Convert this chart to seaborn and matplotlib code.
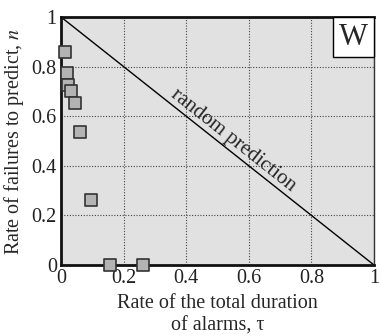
import matplotlib
matplotlib.use("Agg")
import matplotlib.pyplot as plt
import matplotlib.patches as mpatches
import seaborn as sns
import pandas as pd
import numpy as np

tau = [0.013, 0.020, 0.023, 0.032, 0.045, 0.061, 0.096, 0.157, 0.263]
n_fail = [0.86, 0.775, 0.726, 0.70, 0.655, 0.537, 0.262, 0.0, 0.0]
ticks = [0, 0.2, 0.4, 0.6, 0.8, 1]
tick_labels = ["0", "0.2", "0.4", "0.6", "0.8", "1"]

sns.set_style("white")
plt.rcParams['font.family'] = ['Liberation Serif', 'DejaVu Serif']
plt.rcParams['mathtext.fontset'] = 'stix'

fig = plt.figure(figsize=(3.81, 3.36), dpi=100)
ax = fig.add_axes([61/381, 1 - 265/336, 313/381, 248/336])
ax.set_facecolor("#e1e1e1")

df = pd.DataFrame({"tau": tau, "n": n_fail})
ax.plot([0, 1], [1, 0], color="black", lw=1.0, zorder=2)
sns.scatterplot(data=df, x="tau", y="n", marker="s", s=72, color="#b3b3b3",
                edgecolor="#333333", linewidth=1.2, ax=ax, zorder=5, clip_on=False)

ax.set_xlim(0, 1)
ax.set_ylim(0, 1)
ax.set_xticks(ticks)
ax.set_xticklabels(tick_labels)
ax.set_yticks(ticks)
ax.set_yticklabels(tick_labels)
ax.tick_params(length=0, labelsize=14.5, pad=3, colors="#222222")
ax.grid(True, linestyle=(0, (1, 1.5)), color="#444444", lw=0.8)
ax.set_axisbelow(True)
for s in ["left", "bottom", "top"]:
    ax.spines[s].set_linewidth(2.0)
    ax.spines[s].set_color("#111111")
ax.spines["right"].set_linewidth(1.0)
ax.spines["right"].set_color("#333333")

ax.set_xlabel("Rate of the total duration\nof alarms, τ", fontsize=14.5, labelpad=4, linespacing=1.25)
ax.set_ylabel("Rate of failures to predict, $n$", fontsize=14.5, labelpad=4)

ax.text(0.54, 0.487, "random prediction", rotation=-38.4, rotation_mode="anchor",
        ha="center", va="baseline", fontsize=15, transform=ax.transData)

rect = mpatches.Rectangle((0.869, 0.839), 0.131, 0.161, transform=ax.transAxes,
                          facecolor="white", edgecolor="black", lw=1, zorder=6, clip_on=False)
ax.add_patch(rect)
ax.text(0.9345, 0.918, "W", ha="center", va="center", fontsize=22, transform=ax.transAxes,
        zorder=7)

fig.savefig("out.png", dpi=100)
